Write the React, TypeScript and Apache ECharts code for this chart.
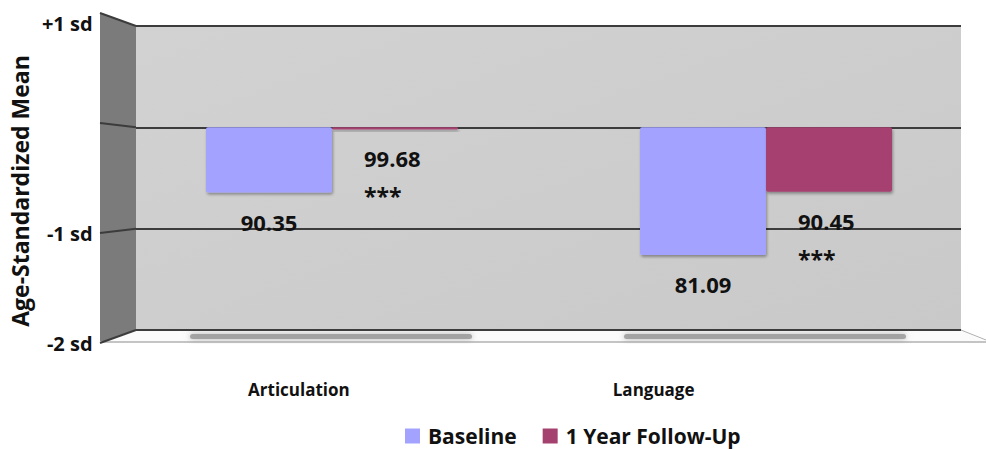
import React, { useEffect, useRef } from "react";
import * as echarts from "echarts";

// Domains and mean standard scores (norm mean 100, SD 15)
const categories = ["Articulation", "Language"];
const seriesNames = ["Baseline", "1 Year Follow-Up"];
const baselineScores = [90.35, 81.09];
const followUpScores = [99.68, 90.45];
const followUpSignificance = ["***", "***"];

// Y axis in SD units relative to the norm mean
const sdTickValues = [1, 0, -1, -2];
const sdTickLabels = ["+1 sd", "", "-1 sd", "-2 sd"];
const NORM_MEAN = 100;
const NORM_SD = 15;

const FONT = "Open Sans";
const BASE_COLOR = "#a3a3ff";
const FOLLOW_COLOR = "#a5416f";
const GRID_LINE = "#3c3c3c";
const TEXT = "#111";

// Back wall, bar plane and front (label) plane of the pseudo-3D box
const WALL = { left: 136, right: 25, top: 26, bottom: 119 };
const BARS = { left: 115, right: 3, top: 26, bottom: 119 };
const FRONT = { left: 119, right: 155, top: 13, bottom: 106 };
const SIDE_FRONT_X = 100;

const toSd = (score: number) => (score - NORM_MEAN) / NORM_SD;

const sdLabel = (v: number) => {
  const i = sdTickValues.indexOf(v);
  const text = i >= 0 ? sdTickLabels[i] : "";
  if (!text) return "";
  return v === 1 ? `{top|${text}}` : `{n|${text}}`;
};

export default function App() {
  const ref = useRef<HTMLDivElement>(null);

  useEffect(() => {
    document.body.style.margin = "0";
    if (!ref.current) return;
    const chart = echarts.init(ref.current, null, { renderer: "svg" });

    const yCommon = {
      type: "value" as const,
      min: -2,
      max: 1,
      interval: 1,
    };

    const barShadow = {
      shadowColor: "rgba(0,0,0,0.35)",
      shadowBlur: 3,
      shadowOffsetX: 1,
      shadowOffsetY: 2,
    };

    const valueRich = {
      v: { fontFamily: FONT, fontWeight: "bold", fontSize: 22, lineHeight: 26, color: TEXT },
      s: { fontFamily: FONT, fontWeight: "bold", fontSize: 23, lineHeight: 50, color: TEXT },
    };

    const option: any = {
      animation: false,
      textStyle: { fontFamily: FONT },
      grid: [
        {
          ...WALL,
          show: true,
          borderWidth: 0,
          backgroundColor: new echarts.graphic.LinearGradient(0, 0, 1, 1, [
            { offset: 0, color: "#d2d2d2" },
            { offset: 1, color: "#c9c9c9" },
          ]),
        },
        { ...BARS },
        { ...FRONT },
      ],
      legend: {
        data: seriesNames,
        left: 405,
        top: 425,
        padding: 0,
        itemWidth: 15,
        itemHeight: 15,
        itemGap: 26,
        icon: "rect",
        textStyle: {
          fontFamily: FONT,
          fontWeight: "bold",
          fontSize: 21,
          lineHeight: 22,
          color: TEXT,
          padding: [0, 0, 0, 3],
        },
      },
      xAxis: [
        { type: "category", gridIndex: 0, data: categories, show: false },
        { type: "category", gridIndex: 1, data: categories, show: false },
        {
          type: "category",
          gridIndex: 2,
          data: categories,
          axisLine: { show: false },
          axisTick: { show: false },
          axisLabel: {
            margin: 38,
            fontFamily: FONT,
            fontWeight: "bold",
            fontSize: 17,
            color: TEXT,
          },
        },
      ],
      yAxis: [
        {
          ...yCommon,
          gridIndex: 0,
          axisLabel: { show: false },
          axisLine: { show: false },
          axisTick: { show: false },
          splitLine: { show: true, lineStyle: { color: GRID_LINE, width: 2 } },
        },
        {
          ...yCommon,
          gridIndex: 1,
          show: false,
          splitLine: { show: false },
        },
        {
          ...yCommon,
          gridIndex: 2,
          axisLine: { show: false },
          axisTick: { show: false },
          splitLine: { show: false },
          name: "Age-Standardized Mean",
          nameLocation: "middle",
          nameGap: 89,
          nameTextStyle: {
            fontFamily: FONT,
            fontWeight: "bold",
            fontSize: 23,
            color: TEXT,
            padding: [0, 26, 0, 0],
          },
          axisLabel: {
            margin: 29,
            formatter: sdLabel,
            rich: {
              n: { fontFamily: FONT, fontWeight: "bold", fontSize: 20, color: TEXT },
              top: {
                fontFamily: FONT,
                fontWeight: "bold",
                fontSize: 20,
                color: TEXT,
                padding: [20, 0, 0, 0],
              },
            },
          },
        },
      ],
      series: [
        {
          name: seriesNames[0],
          type: "bar",
          xAxisIndex: 1,
          yAxisIndex: 1,
          barWidth: 126,
          barGap: "0%",
          data: baselineScores.map((s) => ({ value: toSd(s), score: s })),
          itemStyle: { color: BASE_COLOR, borderRadius: 2, ...barShadow },
          label: {
            show: true,
            position: "bottom",
            distance: 16,
            formatter: (p: any) => `{v|${p.data.score.toFixed(2)}}`,
            rich: valueRich,
          },
        },
        {
          name: seriesNames[1],
          type: "bar",
          xAxisIndex: 1,
          yAxisIndex: 1,
          barWidth: 126,
          barGap: "0%",
          data: followUpScores.map((s, i) => ({
            value: toSd(s),
            score: s,
            sig: followUpSignificance[i],
          })),
          itemStyle: { color: FOLLOW_COLOR, borderRadius: 2, ...barShadow },
          label: {
            show: true,
            position: "bottom",
            distance: 16,
            align: "left",
            offset: [-31, 0],
            formatter: (p: any) => `{v|${p.data.score.toFixed(2)}}\n{s|${p.data.sig}}`,
            rich: valueRich,
          },
        },
      ],
    };

    chart.setOption(option);

    // Side wall, floor and floor shadows placed from the axes' own scales
    const yBack = (v: number) => chart.convertToPixel({ yAxisIndex: 0 }, v) as number;
    const yFront = (v: number) => chart.convertToPixel({ yAxisIndex: 2 }, v) as number;
    const xBar = (i: number) => chart.convertToPixel({ xAxisIndex: 1 }, i) as number;
    const wallLeft = WALL.left;
    const wallRight = 986 - WALL.right;
    const floorBack = yBack(-2);
    const floorFront = yFront(-2);

    const graphics: any[] = [
      {
        type: "polygon",
        z: -10,
        shape: {
          points: [
            [SIDE_FRONT_X, yFront(1)],
            [wallLeft, yBack(1)],
            [wallLeft, floorBack],
            [SIDE_FRONT_X, floorFront],
          ],
        },
        style: { fill: "#7b7b7b" },
      },
      {
        type: "polygon",
        z: -10,
        shape: {
          points: [
            [wallLeft, floorBack],
            [wallRight, floorBack],
            [986, floorBack + 12],
            [SIDE_FRONT_X, floorFront],
          ],
        },
        style: { fill: "#fbfbfb" },
      },
      {
        type: "line",
        z: -9,
        shape: { x1: SIDE_FRONT_X, y1: floorFront - 1, x2: 986, y2: floorFront - 1 },
        style: { stroke: "#c4c4c4", lineWidth: 2 },
      },
      {
        type: "line",
        z: -9,
        shape: { x1: wallRight, y1: floorBack, x2: 986, y2: floorBack + 10 },
        style: { stroke: "#b0b0b0", lineWidth: 1 },
      },
    ];

    sdTickValues.forEach((v) => {
      graphics.push({
        type: "line",
        z: -8,
        shape: { x1: SIDE_FRONT_X, y1: yFront(v), x2: wallLeft, y2: yBack(v) },
        style: { stroke: GRID_LINE, lineWidth: 2 },
      });
    });

    categories.forEach((_, i) => {
      const cx = xBar(i);
      graphics.push({
        type: "rect",
        z: -8,
        shape: { x: cx - 142, y: floorBack + 4, width: 282, height: 5, r: 2.5 },
        style: {
          fill: "rgba(150,150,150,0.8)",
          shadowBlur: 6,
          shadowColor: "rgba(130,130,130,0.8)",
        },
      });
    });

    chart.setOption({ graphic: graphics });

    return () => chart.dispose();
  }, []);

  return <div ref={ref} style={{ width: 986, height: 449 }} />;
}
